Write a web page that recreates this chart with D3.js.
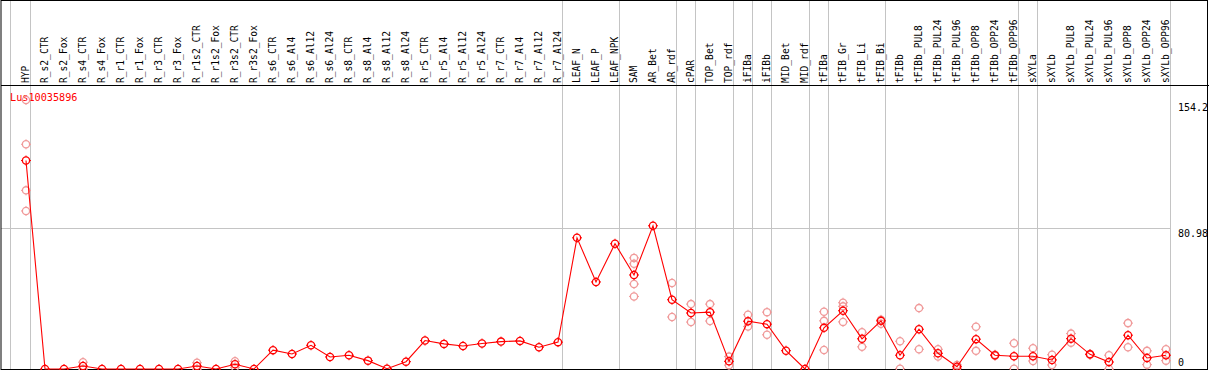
<!DOCTYPE html>
<html>
<head>
<meta charset="utf-8">
<script src="https://cdn.jsdelivr.net/npm/d3@7"></script>
<style>
  html, body { margin: 0; padding: 0; background: #fff; }
  svg { display: block; font-family: "DejaVu Sans Mono", monospace; }
</style>
</head>
<body>
<svg id="chart" width="1209" height="370"></svg>
<script>
// ── data ────────────────────────────────────────────────
const geneId = 'Lus10035896';

const samples = [
  'HYP','R_s2_CTR','R_s2_Fox','R_s4_CTR','R_s4_Fox','R_r1_CTR','R_r1_Fox','R_r3_CTR','R_r3_Fox',
  'R_r1s2_CTR','R_r1s2_Fox','R_r3s2_CTR','R_r3s2_Fox','R_s6_CTR','R_s6_Al4','R_s6_Al12','R_s6_Al24',
  'R_s8_CTR','R_s8_Al4','R_s8_Al12','R_s8_Al24','R_r5_CTR','R_r5_Al4','R_r5_Al12','R_r5_Al24',
  'R_r7_CTR','R_r7_Al4','R_r7_Al12','R_r7_Al24','LEAF_N','LEAF_P','LEAF_NPK','SAM','AR_Bet','AR_rdf',
  'cPAR','TOP_Bet','TOP_rdf','iFIBa','iFIBb','MID_Bet','MID_rdf','tFIBa','tFIB_Gr','tFIB_Li','tFIB_Bi',
  'tFIBb','tFIBb_PUL8','tFIBb_PUL24','tFIBb_PUL96','tFIBb_OPP8','tFIBb_OPP24','tFIBb_OPP96',
  'sXYLa','sXYLb','sXYLb_PUL8','sXYLb_PUL24','sXYLb_PUL96','sXYLb_OPP8','sXYLb_OPP24','sXYLb_OPP96'
];

// mean expression per sample
const means = [
  119.5, 0, 0, 1.7, 0, 0, 0, 0, 0,
  1.7, 0, 2.7, 0, 10.8, 8.6, 13.6, 6.9,
  7.9, 4.8, 0.2, 4.2, 16.3, 14.4, 13.2, 14.6,
  15.7, 16.1, 12.5, 15.4, 75.2, 49.9, 71.8, 53.9, 82.1, 39.7,
  32.1, 32.6, 4.4, 27.4, 25.7, 10.5, 0, 23.6, 33.4, 17.3, 27.6,
  7.9, 22.8, 9.0, 1.3, 17.1, 7.9, 7.3,
  7.3, 5.2, 17.4, 8.4, 4.0, 19.4, 6.3, 7.9
];

// individual replicates (empty where only one sample)
const replicates = [
  [154.2, 128.8, 102.4, 90.6], [], [], [3.9, 0], [], [], [], [], [],
  [3.6, 0], [], [4.4, 1.0], [], [], [], [], [],
  [], [], [], [], [], [], [], [],
  [], [], [], [], [], [], [], [63.7, 60.3, 48.7, 41.6], [], [49.3, 29.8],
  [37.2, 26.9], [37.2, 27.5], [7.1, 2.2], [31.1, 24.4], [32.6, 19.6], [], [], [32.8, 27.6, 10.9], [38.0, 35.9, 27.0], [21.1, 12.7], [28.2, 25.9],
  [15.9, 0.2], [34.9, 11.3], [11.3, 7.1], [2.3, 0.3], [24.2, 10.4], [8.2, 7.6], [14.8, 0.2],
  [11.9, 4.6], [8.2, 2.3], [20.3, 15.1], [8.6, 8.2], [7.9, 0], [26.3, 12.5], [10.4, 2.5], [11.3, 4.8]
];

// last sample of each group (a grey separator follows it)
const groupEnds = ['HYP','R_r7_Al24','LEAF_NPK','AR_rdf','cPAR','TOP_rdf','iFIBa','iFIBb',
  'MID_rdf','tFIBa','tFIB_Bi','tFIBb_OPP96','sXYLa','sXYLb_OPP96'];

const yTicks = [0, 80.98, 154.2];

// ── layout ─────────────────────────────────────────────
const W = 1209, H = 370;
const headerY = 85.5, plotBottom = 369;
const RED = '#ff0000', PINK = '#f09a9a', GREY = '#c4c4c4';

const svg = d3.select('#chart');

const x = d3.scalePoint().domain(samples).range([26, 1166]);
const y = d3.scaleLinear().domain([0, d3.max(yTicks)]).range([plotBottom, 100]);

// grey vertical separators (full height)
const sepX = [x(samples[0]) - 15.5].concat(groupEnds.map(s => x(s) + 4.5));
svg.append('g').selectAll('line')
  .data(sepX)
  .join('line')
  .attr('x1', d => d).attr('x2', d => d)
  .attr('y1', 0).attr('y2', plotBottom)
  .attr('stroke', GREY).attr('stroke-width', 1);

// horizontal gridline at middle tick
svg.append('line')
  .attr('x1', 1).attr('x2', x(samples[samples.length - 1]) + 4.5)
  .attr('y1', Math.round(y(yTicks[1])) + 0.5).attr('y2', Math.round(y(yTicks[1])) + 0.5)
  .attr('stroke', GREY).attr('stroke-width', 1);

// frame + header divider
svg.append('rect')
  .attr('x', 1).attr('y', 0.5).attr('width', 1206.5).attr('height', plotBottom)
  .attr('fill', 'none').attr('stroke', '#000').attr('stroke-width', 1);
svg.append('line')
  .attr('x1', 1).attr('x2', W).attr('y1', headerY).attr('y2', headerY)
  .attr('stroke', '#000').attr('stroke-width', 1);

// rotated sample labels
svg.append('g').selectAll('text')
  .data(samples)
  .join('text')
  .attr('transform', d => `translate(${x(d) + 2.5},83) rotate(-90)`)
  .attr('font-size', 9.6)
  .attr('fill', '#000')
  .text(d => d);

// y axis labels on the right
const yAxis = svg.append('g')
  .attr('transform', 'translate(1178,0)')
  .call(d3.axisRight(y).tickValues(yTicks).tickSize(0).tickPadding(0).tickFormat(d => d));
yAxis.select('.domain').remove();
yAxis.attr('font-family', '"DejaVu Sans Mono", monospace').attr('font-size', 10);
yAxis.selectAll('text')
  .attr('fill', '#000')
  .attr('dy', (d, i) => i === 0 ? '-0.35em' : (i === 1 ? '0.9em' : '1.0em'));

// gene title
svg.append('text')
  .attr('x', 10).attr('y', 101)
  .attr('font-size', 10.2)
  .attr('fill', RED)
  .text(geneId);

// marker: ring with small ticks
function marker(g, cx, cy, color) {
  g.append('circle')
    .attr('cx', cx).attr('cy', cy).attr('r', 3.6)
    .attr('fill', 'none').attr('stroke', color).attr('stroke-width', 1.3);
  const t = [[0, -1], [0, 1], [-1, 0], [1, 0]];
  t.forEach(([dx, dy]) => {
    g.append('line')
      .attr('x1', cx + dx * 3.6).attr('y1', cy + dy * 3.6)
      .attr('x2', cx + dx * 5).attr('y2', cy + dy * 5)
      .attr('stroke', color).attr('stroke-width', 1);
  });
}

// replicates
const repG = svg.append('g');
replicates.forEach((reps, i) => {
  reps.forEach(v => marker(repG, x(samples[i]), y(v), PINK));
});

// mean line
svg.append('path')
  .datum(means)
  .attr('fill', 'none')
  .attr('stroke', RED)
  .attr('stroke-width', 1.1)
  .attr('d', d3.line().x((d, i) => x(samples[i])).y(d => y(d)));

// mean markers
const meanG = svg.append('g');
means.forEach((v, i) => marker(meanG, x(samples[i]), y(v), RED));
</script>
</body>
</html>
